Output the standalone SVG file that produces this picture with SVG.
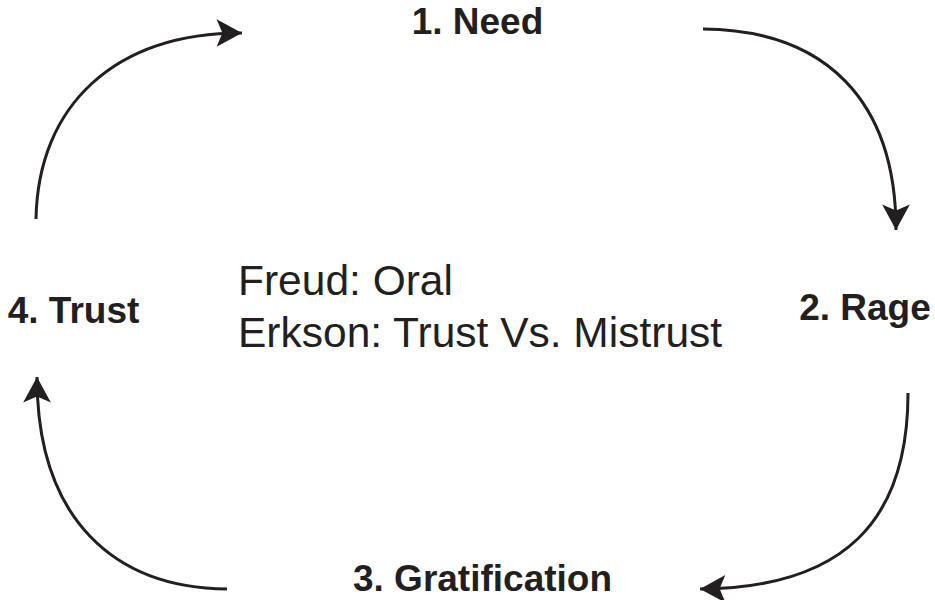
<svg xmlns="http://www.w3.org/2000/svg" width="935" height="600" viewBox="0 0 935 600">
<style>
.lbl{font-family:"Liberation Sans",Arial,sans-serif;font-weight:bold;font-size:37px;fill:#231f20;text-anchor:middle}
.note{font-family:"Liberation Sans",Arial,sans-serif;font-size:42.5px;fill:#231f20}
.conn{fill:none;stroke:#231f20;stroke-width:3}
</style>
<defs>
<marker id="ah" markerUnits="userSpaceOnUse" markerWidth="30" markerHeight="30" viewBox="-24 -13 26 26" refX="0" refY="0" orient="auto">
<path d="M0,0 L-22,-12 L-17,0 L-22,12 Z" fill="#231f20"/>
</marker>
</defs>
<rect width="935" height="600" fill="#fff"/>
<g id="connectors">
<path class="conn" d="M36,219 C38,105 115,33 242,33" marker-end="url(#ah)"/>
<path class="conn" d="M703,29 C825,30 896,100 896,230" marker-end="url(#ah)"/>
<path class="conn" d="M908,393 C908,520 845,588 700,589" marker-end="url(#ah)"/>
<path class="conn" d="M227,589 C115,588 37,520 37,377" marker-end="url(#ah)"/>
</g>
<g id="need"><text class="lbl" x="477.5" y="34">1. Need</text></g>
<g id="rage"><text class="lbl" x="865" y="320">2. Rage</text></g>
<g id="gratification"><text class="lbl" x="482.5" y="591">3. Gratification</text></g>
<g id="trust"><text class="lbl" x="73.5" y="323">4. Trust</text></g>
<g id="center-note">
<text class="note" x="238" y="295">Freud: Oral</text>
<text class="note" x="238" y="347">Erkson: Trust Vs. Mistrust</text>
</g>
</svg>
